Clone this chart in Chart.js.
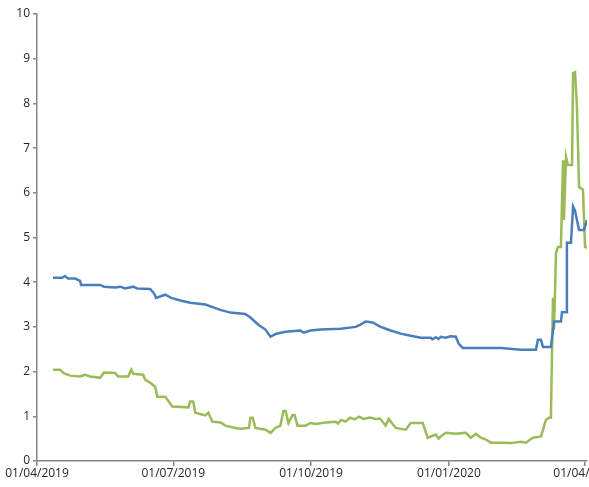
<!DOCTYPE html>
<html lang="en">
<head>
<meta charset="UTF-8">
<title>Chart</title>
<script src="https://cdn.jsdelivr.net/npm/chart.js"></script>
<style>
  html, body { margin: 0; padding: 0; background: #fff; }
  #wrap { width: 589px; height: 487px; }
</style>
</head>
<body>
<div id="wrap"><canvas id="chart" width="589" height="487"></canvas></div>
<script>
// days counted from 01/04/2019
const tickDays = [0, 91, 183, 275, 366];
const tickLabels = ['01/04/2019', '01/07/2019', '01/10/2019', '01/01/2020', '01/04/2020'];

const blueDays = [10.7, 16.7, 18.7, 20.7, 25.4, 28.8, 29.4, 42.1, 44.8, 52.2, 55.5, 58.9, 64.2, 66.9, 75.6, 78.3, 79.5,
  85.6, 89.6, 95.7, 102.3, 112.4, 122.4, 129.1, 139.1, 142.5, 147.8, 152.5, 155.9, 159.2, 165.9, 175.9, 178, 182.6,
  189.3, 202.7, 212.7, 216, 219.4, 224.1, 229.4, 236.1, 242.8, 249.5, 256.2, 262.9, 264, 266.2, 268, 269.6, 272.9,
  276, 279.6, 281.6, 284.3, 296.3, 309.7, 323.1, 333.1, 334.4, 336.5, 337.8, 343.1, 345.2, 349.8, 350.5, 353.2,
  353.8, 356.5, 357.9, 359.2, 361.9, 365.2, 367.2];
const blueValues = [4.10, 4.10, 4.14, 4.08, 4.08, 4.03, 3.94, 3.94, 3.90, 3.88, 3.90, 3.86, 3.90, 3.86, 3.85, 3.74, 3.65,
  3.72, 3.65, 3.59, 3.54, 3.50, 3.38, 3.32, 3.29, 3.21, 3.05, 2.94, 2.78, 2.84, 2.89, 2.92, 2.87, 2.92,
  2.94, 2.96, 3.00, 3.05, 3.12, 3.10, 3.00, 2.92, 2.85, 2.80, 2.76, 2.76, 2.72, 2.77, 2.73, 2.78, 2.76,
  2.79, 2.78, 2.62, 2.53, 2.53, 2.53, 2.49, 2.49, 2.71, 2.71, 2.55, 2.55, 3.12, 3.12, 3.33, 3.33,
  4.88, 4.88, 5.69, 5.60, 5.17, 5.17, 5.39];

const greenDays = [10.7, 15.4, 18.1, 22.1, 28.8, 32.1, 35.5, 42.1, 44.8, 52.2, 54.2, 60.9, 62.9, 64.2, 70.9, 72.2, 75.6,
  78.9, 80.3, 85.6, 90.3, 101, 102.3, 104.3, 105.7, 112.4, 114.4, 117.1, 122.4, 125.8, 132.4, 135.8, 141.5,
  142.5, 144, 145.8, 152.5, 155.9, 159.2, 162.5, 164.5, 166, 167.9, 170.6, 172, 173.9, 179.3, 182.6, 186,
  192.6, 199.3, 201, 203, 206, 209, 212, 215, 218, 222, 226.1, 229, 232.8, 234.8, 239.5, 246.2, 249.5, 257.5,
  260.9, 266.2, 268.2, 269.6, 272.9, 279.6, 286.3, 289.6, 293, 296.3, 299.7, 303, 309.7, 316.4, 323.1, 326.4,
  331.1, 336.5, 339.8, 341.8, 343.1, 344.5, 345.2, 346.5, 347.8, 349.8, 351.2, 351.8, 353.2, 354.5, 357.2,
  357.9, 359.2, 360.5, 361.9, 364.5, 365.9, 367.2];
const greenValues = [2.04, 2.04, 1.96, 1.91, 1.89, 1.93, 1.89, 1.86, 1.98, 1.97, 1.89, 1.89, 2.04, 1.95, 1.93, 1.82, 1.75,
  1.66, 1.44, 1.44, 1.22, 1.20, 1.33, 1.33, 1.08, 1.02, 1.08, 0.88, 0.86, 0.79, 0.74, 0.72, 0.74,
  0.97, 0.97, 0.74, 0.70, 0.63, 0.74, 0.79, 1.12, 1.12, 0.85, 1.03, 1.03, 0.79, 0.79, 0.85, 0.83,
  0.86, 0.88, 0.84, 0.92, 0.88, 0.97, 0.93, 0.99, 0.94, 0.97, 0.94, 0.95, 0.79, 0.94, 0.74, 0.70, 0.85, 0.85,
  0.52, 0.59, 0.50, 0.55, 0.63, 0.61, 0.63, 0.52, 0.61, 0.52, 0.48, 0.41, 0.41, 0.40, 0.43, 0.41,
  0.52, 0.55, 0.92, 0.97, 0.97, 3.65, 2.94, 4.65, 4.79, 4.79, 6.73, 5.39, 6.80, 6.62, 6.62,
  8.68, 8.70, 7.92, 6.13, 6.07, 4.79, 4.77];

const toPoints = (xs, ys) => xs.map((x, i) => ({ x: x, y: ys[i] }));
const axisGrey = '#868686';
const textColor = '#262626';
const font = { family: 'Open Sans', size: 12 };

new Chart(document.getElementById('chart'), {
  type: 'line',
  data: {
    datasets: [
      { data: toPoints(blueDays, blueValues), borderColor: '#4a7ebb', borderWidth: 2.5, pointRadius: 0, tension: 0 },
      { data: toPoints(greenDays, greenValues), borderColor: '#9bbb59', borderWidth: 2.5, pointRadius: 0, tension: 0 }
    ]
  },
  options: {
    responsive: false,
    animation: false,
    events: [],
    layout: { padding: { top: 14, right: 2, left: 0, bottom: 0 } },
    plugins: { legend: { display: false }, tooltip: { enabled: false } },
    scales: {
      x: {
        type: 'linear',
        min: 0,
        max: 367.2,
        grid: { drawOnChartArea: false, drawTicks: true, tickLength: 5, color: axisGrey, lineWidth: 1.5 },
        border: { display: true, color: axisGrey, width: 1.5 },
        afterBuildTicks: s => { s.ticks = tickDays.map(v => ({ value: v })); },
        ticks: {
          autoSkip: false, maxRotation: 0, color: textColor, font: font, padding: 0,
          callback: (v, i) => tickLabels[i]
        },
        afterFit: s => { s.height = 26; s.paddingLeft = 0; s.paddingRight = 0; }
      },
      y: {
        min: 0,
        max: 10,
        grid: { drawOnChartArea: false, drawTicks: true, tickLength: 4, color: axisGrey, lineWidth: 1.5 },
        border: { display: true, color: axisGrey, width: 1.5 },
        ticks: { stepSize: 1, color: textColor, font: font, padding: 3 },
        afterFit: s => { s.width = 37; s.paddingTop = 0; s.paddingBottom = 0; }
      }
    }
  }
});
</script>
</body>
</html>
